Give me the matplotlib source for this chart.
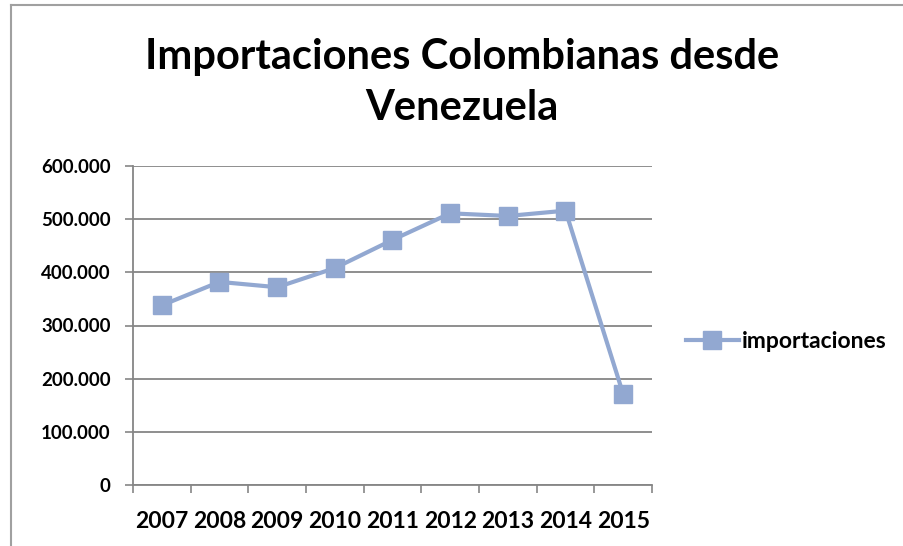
import matplotlib
matplotlib.use("Agg")
import matplotlib.pyplot as plt
from matplotlib.lines import Line2D
from matplotlib.ticker import FuncFormatter

years = ["2007", "2008", "2009", "2010", "2011", "2012", "2013", "2014", "2015"]
importaciones = [338000, 382000, 372000, 408000, 461000, 511000, 506000, 516000, 171000]
yticks = [0, 100000, 200000, 300000, 400000, 500000, 600000]

W, H = 904, 546
fig = plt.figure(figsize=(W / 100, H / 100), dpi=100)
plt.rcParams['font.family'] = ['Lato', 'DejaVu Sans']

ax = fig.add_axes([133 / W, 1 - 485 / H, (652 - 133) / W, (485 - 166) / H])
color = '#92a8d1'
x = list(range(len(years)))
ax.plot(x, importaciones, color=color, lw=3, marker='s', markersize=13.5,
        markerfacecolor=color, markeredgecolor=color, zorder=3)

ax.set_xlim(-0.5, len(years) - 0.5)
ax.set_ylim(0, 600000)
ax.set_yticks(yticks)
ax.yaxis.set_major_formatter(FuncFormatter(lambda v, p: "0" if v == 0 else f"{int(v):,}".replace(",", ".")))
ax.set_xticks(x)
ax.set_xticklabels(years)
ax.set_xticks([i - 0.5 for i in range(len(years) + 1)], minor=True)
ax.tick_params(axis='x', which='major', length=0, pad=19)
ax.tick_params(axis='x', which='minor', length=6, width=1.2, color='#868686')
ax.tick_params(axis='y', length=6, width=1.2, color='#868686', pad=10)
for lab in ax.get_xticklabels():
    lab.set_fontsize(16.5)
    lab.set_fontweight('bold')
    lab.set_color('black')
for lab in ax.get_yticklabels():
    lab.set_fontsize(13.5)
    lab.set_fontweight('bold')
    lab.set_color('black')

ax.grid(axis='y', color='#868686', lw=1.3)
ax.set_axisbelow(True)
for s in ['top', 'right']:
    ax.spines[s].set_visible(False)
for s in ['left', 'bottom']:
    ax.spines[s].set_color('#868686')
    ax.spines[s].set_linewidth(1.3)

fig.text(462 / W, 1 - 57 / H, "Importaciones Colombianas desde", ha='center', va='center',
         fontsize=30, fontweight='bold')
fig.text(462 / W, 1 - 108 / H, "Venezuela", ha='center', va='center',
         fontsize=30, fontweight='bold')

leg_handle = Line2D([0], [0], color=color, lw=3, marker='s', markersize=13.5,
                    markerfacecolor=color, markeredgecolor=color)
leg = fig.legend([leg_handle], ["importaciones"], loc='center left',
                 bbox_to_anchor=(686 / W, 1 - 342 / H), frameon=False,
                 prop={'size': 16.5, 'weight': 'bold'}, handlelength=2.3,
                 handletextpad=0.15, borderaxespad=0, borderpad=0)

# chart frame
fig.add_artist(Line2D([11 / W, 11 / W], [0, 1 - 5 / H], color='#a0a0a0', lw=1.5))
fig.add_artist(Line2D([11 / W, 1], [1 - 5 / H, 1 - 5 / H], color='#a0a0a0', lw=1.5))

fig.savefig("out.png", dpi=100)
